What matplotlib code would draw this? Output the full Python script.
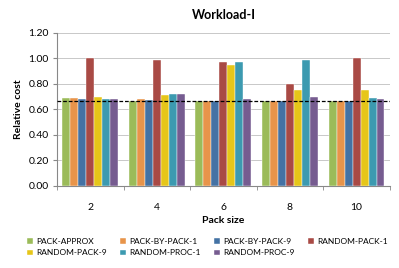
import matplotlib.pyplot as plt
import numpy as np

plt.rcParams['font.family'] = ['Lato', 'DejaVu Sans']

pack_sizes = ['2', '4', '6', '8', '10']
series_names = ['PACK-APPROX', 'PACK-BY-PACK-1', 'PACK-BY-PACK-9', 'RANDOM-PACK-1',
                'RANDOM-PACK-9', 'RANDOM-PROC-1', 'RANDOM-PROC-9']
pack_approx = [0.69, 0.67, 0.67, 0.67, 0.67]
pack_by_pack_1 = [0.69, 0.685, 0.67, 0.67, 0.67]
pack_by_pack_9 = [0.685, 0.675, 0.67, 0.67, 0.67]
random_pack_1 = [1.00, 0.985, 0.97, 0.80, 1.00]
random_pack_9 = [0.70, 0.715, 0.95, 0.755, 0.755]
random_proc_1 = [0.685, 0.72, 0.97, 0.99, 0.69]
random_proc_9 = [0.685, 0.72, 0.685, 0.70, 0.68]
baseline = 0.665

colors = ['#9BBB59', '#E8944A', '#4472A4', '#A94A45', '#E6C619', '#3C9AB0', '#765C90']
series = [pack_approx, pack_by_pack_1, pack_by_pack_9, random_pack_1,
          random_pack_9, random_proc_1, random_proc_9]

fig = plt.figure(figsize=(3.99, 2.68), dpi=100)
ax = fig.add_axes([0.143, 0.306, 0.834, 0.571])

x = np.arange(len(pack_sizes))
w = 0.12
handles = []
for i, (vals, c) in enumerate(zip(series, colors)):
    b = ax.bar(x + (i - 3) * w, vals, w, color=c, edgecolor='white', linewidth=0.3,
               label=series_names[i], zorder=3)
    handles.append(b)

ax.axhline(baseline, color='black', linestyle='--', linewidth=0.9, dashes=(3, 1.5), zorder=4)

ax.set_xlim(-0.5, len(pack_sizes) - 0.5)
ax.set_ylim(0, 1.2)
ax.set_yticks(np.arange(0, 1.21, 0.2))
ax.set_yticklabels(['%.2f' % v for v in np.arange(0, 1.21, 0.2)], fontsize=7.5)
ax.set_xticks(x)
ax.set_xticklabels(pack_sizes, fontsize=7.5)
ax.set_xticks(np.arange(-0.5, len(pack_sizes)), minor=True)
ax.tick_params(axis='x', which='major', length=0, pad=12)
ax.tick_params(axis='x', which='minor', length=3, color='#888888')
ax.tick_params(axis='y', length=3, color='#888888', pad=3)
ax.grid(axis='y', color='#c8c8c8', linewidth=0.7, zorder=0)
for s in ['top', 'right']:
    ax.spines[s].set_visible(False)
ax.spines['left'].set_color('#888888')
ax.spines['bottom'].set_color('#888888')

ax.set_xlabel('Pack size', fontsize=7.5, fontweight='bold', labelpad=3)
ax.set_ylabel('Relative cost', fontsize=7.5, fontweight='bold', labelpad=4)
ax.set_title('Workload-I', fontsize=9, fontweight='bold', pad=10)

order = [0, 4, 1, 5, 2, 6, 3]
fig.legend([handles[i] for i in order], [series_names[i] for i in order],
           loc='lower center', bbox_to_anchor=(0.52, 0.015), ncol=4, frameon=False,
           fontsize=6, handlelength=0.7, handleheight=0.7, handletextpad=0.4,
           columnspacing=1.6, labelspacing=0.5)

fig.savefig('out.png', dpi=100)
